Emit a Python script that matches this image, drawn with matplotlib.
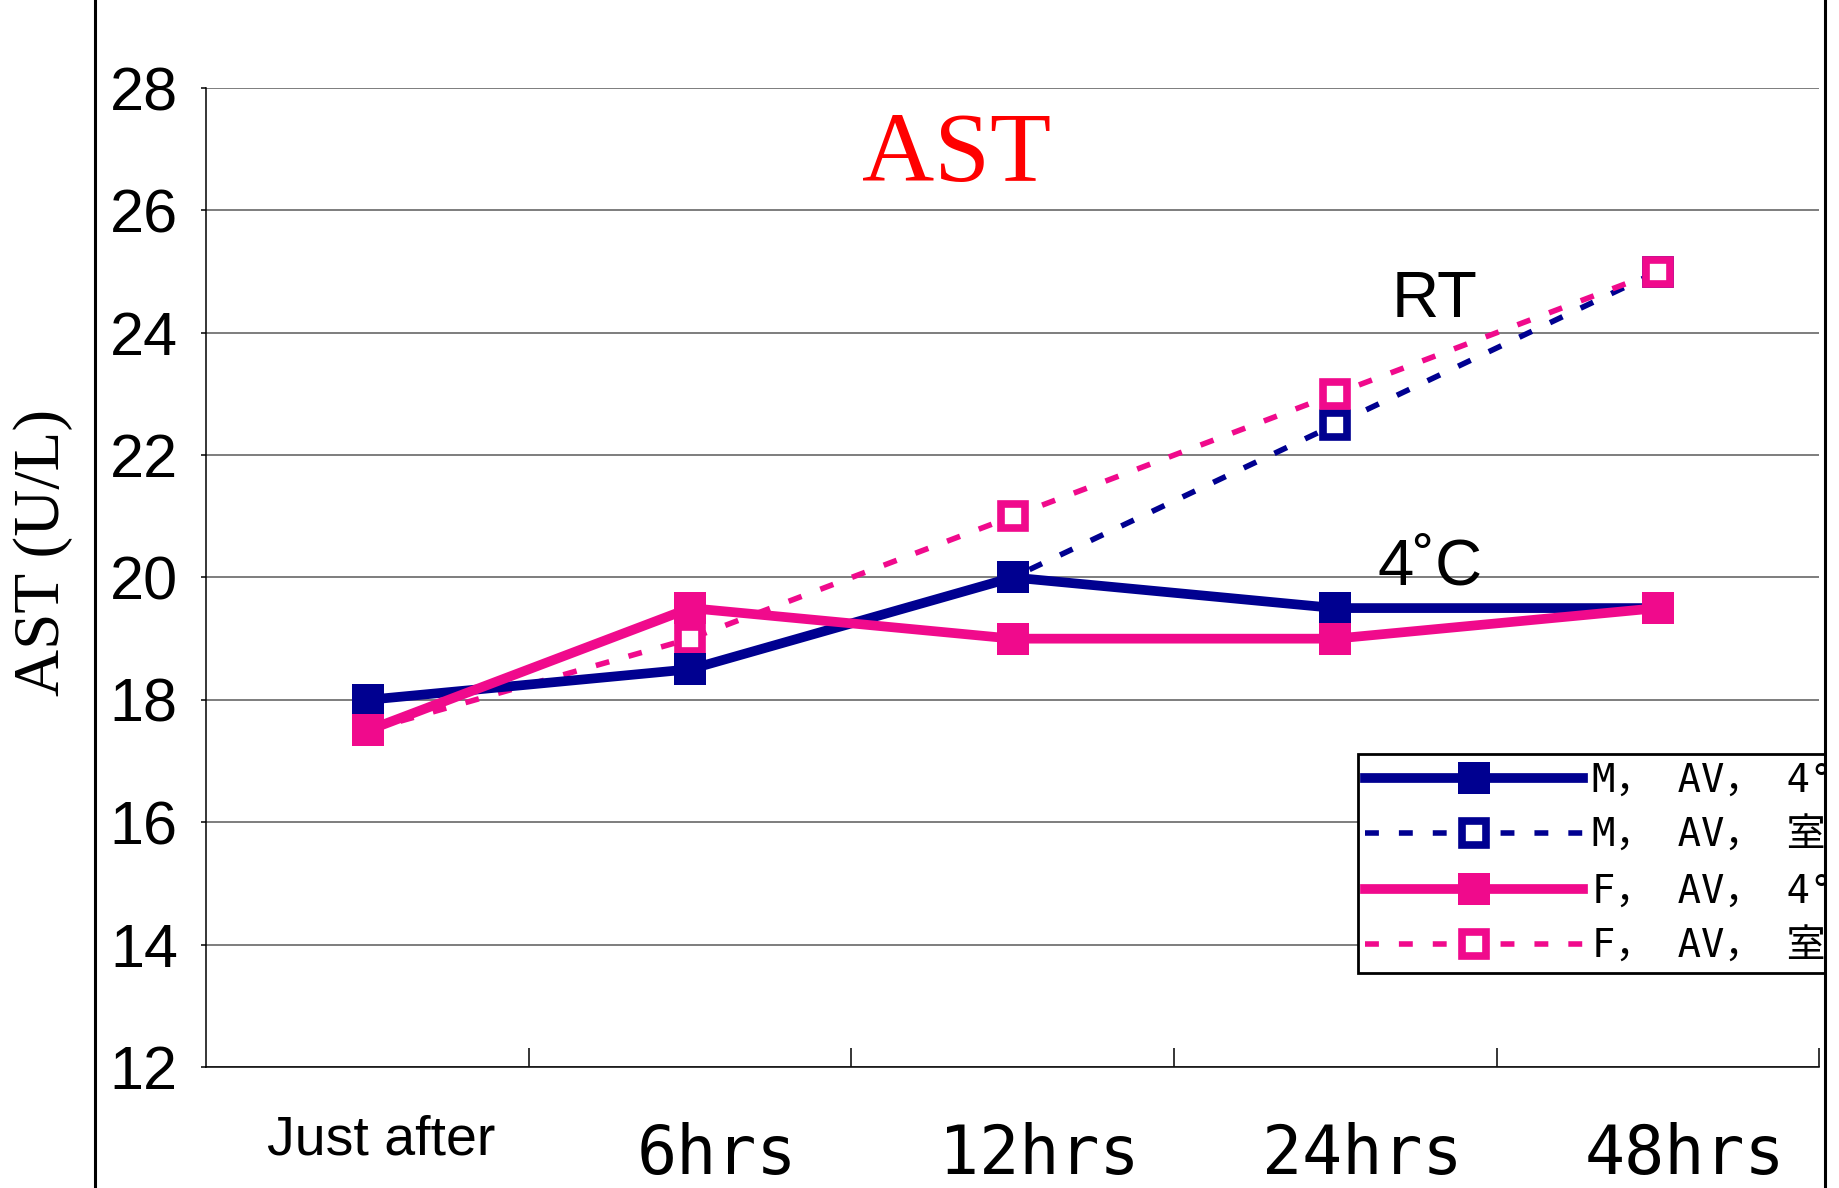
import numpy as np
from matplotlib import pyplot as plt
from matplotlib.lines import Line2D
from matplotlib.patches import Rectangle
from matplotlib.transforms import ScaledTranslation

categories = ["Just after", "6hrs", "12hrs", "24hrs", "48hrs"]
m_4c = [18.0, 18.5, 20.0, 19.5, 19.5]
m_rt = [18.0, 18.5, 20.0, 22.5, 25.0]
f_4c = [17.5, 19.5, 19.0, 19.0, 19.5]
f_rt = [17.5, 19.0, 21.0, 23.0, 25.0]
labels = ["M， AV， 4°C", "M， AV， 室温", "F， AV， 4°C", "F， AV， 室温"]

NAVY = "#000090"
PINK = "#F00A8C"

fig = plt.figure(figsize=(18.4, 11.88), dpi=100)
ax = fig.add_axes([0.1122, 0.1019, 0.8764, 0.824])
x = np.arange(len(categories))

solid = dict(lw=7, marker="s", ms=22.5, mew=0)
dashed = dict(lw=4, ls=(0, (2.5, 3.6)), marker="s", ms=17.5, mew=5.5,
              mfc="white")

# room temperature series sit under the 4C ones
l_mrt, = ax.plot(x, m_rt, color=NAVY, mec=NAVY, zorder=3, **dashed)
l_frt, = ax.plot(x, f_rt, color=PINK, mec=PINK, zorder=4, **dashed)
l_m4, = ax.plot(x, m_4c, color=NAVY, mfc=NAVY, zorder=5, **solid)
l_f4, = ax.plot(x, f_4c, color=PINK, mfc=PINK, zorder=6, **solid)

ax.set_xlim(-0.5, len(categories) - 0.5)
ax.set_ylim(12, 28)
ax.set_yticks(np.arange(12, 29, 2))
ax.yaxis.grid(True, color="#5a5a5a", lw=1.1)
ax.set_axisbelow(True)
for s in ["top", "right"]:
    ax.spines[s].set_visible(False)
for s in ["left", "bottom"]:
    ax.spines[s].set_linewidth(1.1)
    ax.spines[s].set_color("black")

ax.tick_params(axis="y", length=3.6, width=1.1, pad=17, labelsize=44)
for lab in ax.get_yticklabels():
    lab.set_family("Liberation Sans")

ax.set_xticks(x)
ax.set_xticklabels(categories)
ax.set_xticks(np.arange(len(categories)) + 0.5, minor=True)
ax.tick_params(axis="x", which="major", length=0, pad=40)
ax.tick_params(axis="x", which="minor", direction="in", length=13.7, width=1.1)
for lab in ax.get_xticklabels():
    if lab.get_text() == "Just after":
        lab.set_family("Liberation Sans")
        lab.set_fontsize(40)
        dx, dy = 0.13, 0.08
    else:
        lab.set_family("DejaVu Sans Mono")
        lab.set_fontsize(48)
        dx, dy = 0.27, 0.0
    lab.set_transform(lab.get_transform() + ScaledTranslation(dx, dy, fig.dpi_scale_trans))

ax.set_ylabel("AST (U/L)", family="Liberation Serif", fontsize=47)
ax.yaxis.set_label_coords(-0.083, 0.526)

ax.text(1.533, 26.48, "AST", color="#FF0000", family="Liberation Serif",
        fontsize=72, ha="left", va="baseline")
ax.text(3.175, 24.26, "RT", family="Liberation Sans", fontsize=47,
        ha="left", va="baseline")
ax.text(3.13, 19.88, "4˚C", family="Liberation Sans", fontsize=47,
        ha="left", va="baseline")

leg = ax.legend([l_m4, l_mrt, l_f4, l_frt], labels, loc="lower left",
                bbox_to_anchor=(0.714, 0.096), borderaxespad=0,
                prop={"family": ["DejaVu Sans Mono", "Noto Sans CJK JP"], "size": 28},
                handlelength=5.6, handletextpad=0.25, borderpad=0.18,
                labelspacing=0.45, fancybox=False, framealpha=1)
leg.get_frame().set_edgecolor("black")
leg.get_frame().set_linewidth(2)
leg.set_zorder(10)

# page frame: the chart is cut at the right border line
fig.patches.append(Rectangle((1825 / 1840, 0), 1, 1, transform=fig.transFigure,
                             color="white", zorder=20))
fig.lines.append(Line2D([95 / 1840] * 2, [0, 1], transform=fig.transFigure,
                        color="black", lw=2.2, zorder=21))
fig.lines.append(Line2D([1825 / 1840] * 2, [0, 1], transform=fig.transFigure,
                        color="black", lw=2.2, zorder=21))

fig.savefig("out.png", dpi=100)
